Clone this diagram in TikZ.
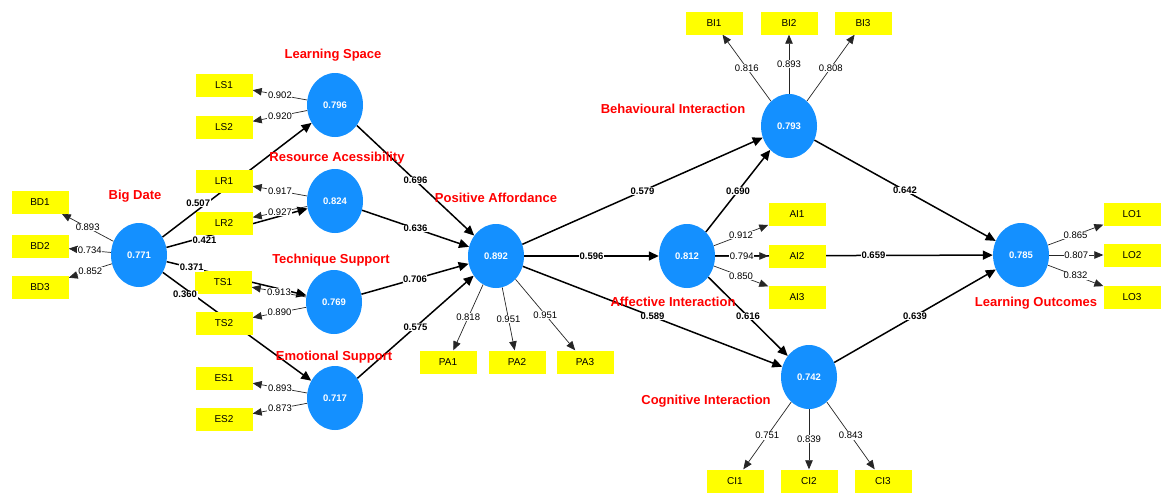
\documentclass[tikz,border=0pt]{standalone}
\usepackage{fontspec}
\setmainfont{Liberation Sans}
\usetikzlibrary{shapes.geometric,arrows.meta}
\pgfdeclarelayer{bg}
\pgfdeclarelayer{canvas}
\pgfsetlayers{canvas,bg,main}
\definecolor{lvblue}{RGB}{20,144,255}
\definecolor{mvyellow}{RGB}{255,255,0}
\definecolor{lblred}{RGB}{255,0,0}
\tikzset{
 latent/.style={ellipse, fill=lvblue, minimum width=56pt, minimum height=64pt, inner sep=0pt, text=white, font=\fontsize{9.5}{10}\selectfont\bfseries},
 ind/.style={rectangle, fill=mvyellow, minimum width=57pt, minimum height=23pt, inner sep=0pt, font=\fontsize{10}{11}\selectfont},
 cname/.style={text=lblred, font=\fontsize{13}{15}\selectfont\bfseries},
 struct/.style={line width=1.5pt, -{Triangle[length=10pt,width=9pt]}},
 meas/.style={line width=0.7pt, black!85, -{Triangle[length=9pt,width=7.5pt]}},
 slab/.style={fill=white, text=black, inner sep=0.6pt, font=\fontsize{9.5}{10}\selectfont\bfseries},
 mlab/.style={fill=white, text=black, inner sep=0.6pt, font=\fontsize{9.5}{10}\selectfont},
}
\begin{document}
\begin{tikzpicture}[x=1pt,y=-1pt]
\begin{pgfonlayer}{canvas}
\useasboundingbox[fill=white] (0,0) rectangle (1161,496);
\end{pgfonlayer}
% latent variables
\node[latent] (BD) at (139,255) {0.771};
\node[latent] (LS) at (335,105) {0.796};
\node[latent] (RA) at (335,201) {0.824};
\node[latent] (TS) at (334,302) {0.769};
\node[latent] (ES) at (335,398) {0.717};
\node[latent] (PA) at (496,256) {0.892};
\node[latent] (AI) at (687,256) {0.812};
\node[latent] (BI) at (789,126) {0.793};
\node[latent] (CI) at (809,377) {0.742};
\node[latent] (LO) at (1021,255) {0.785};
% indicators
\node[ind] (BD1) at (40,202) {BD1};
\node[ind] (BD2) at (40,246) {BD2};
\node[ind] (BD3) at (40,287) {BD3};
\node[ind] (LS1) at (224,85) {LS1};
\node[ind] (LS2) at (224,127) {LS2};
\node[ind] (LR1) at (224,181) {LR1};
\node[ind] (LR2) at (224,223) {LR2};
\node[ind] (TS1) at (223,282) {TS1};
\node[ind] (TS2) at (224,323) {TS2};
\node[ind] (ES1) at (224,378) {ES1};
\node[ind] (ES2) at (224,419) {ES2};
\node[ind] (PA1) at (448,362) {PA1};
\node[ind] (PA2) at (517,362) {PA2};
\node[ind] (PA3) at (585,362) {PA3};
\node[ind] (BI1) at (714,23) {BI1};
\node[ind] (BI2) at (789,23) {BI2};
\node[ind] (BI3) at (863,23) {BI3};
\node[ind] (AI1) at (797,214) {AI1};
\node[ind] (AI2) at (797,256) {AI2};
\node[ind] (AI3) at (797,297) {AI3};
\node[ind] (CI1) at (735,481) {CI1};
\node[ind] (CI2) at (809,481) {CI2};
\node[ind] (CI3) at (883,481) {CI3};
\node[ind] (LO1) at (1132,214) {LO1};
\node[ind] (LO2) at (1132,255) {LO2};
\node[ind] (LO3) at (1132,297) {LO3};
% construct names
\node[cname] (nBD) at (135,196) {Big Date};
\node[cname] (nLS) at (333,55) {Learning Space};
\node[cname] (nRA) at (337,158) {Resource Acessibility};
\node[cname] (nTS) at (331,260) {Technique Support};
\node[cname] (nES) at (334,357) {Emotional Support};
\node[cname] (nPA) at (496,198) {Positive Affordance};
\node[cname] (nBI) at (673,109) {Behavioural Interaction};
\node[cname] (nAI) at (673,302) {Affective Interaction};
\node[cname] (nCI) at (706,401) {Cognitive Interaction};
\node[cname] (nLO) at (1036,303) {Learning Outcomes};
% labels of the Big Date paths, above the boxes
\path (BD) -- node[slab,pos=0.30,xshift=-9pt]{0.507} (LS);
\path (BD) -- node[slab,pos=0.27,yshift=-3pt]{0.421} (RA);
\path (BD) -- node[slab,pos=0.18]{0.371} (TS);
\path (BD) -- node[slab,pos=0.15,yshift=-6pt]{0.360} (ES);
\begin{pgfonlayer}{bg}
% structural paths
\draw[struct] (BD) -- (LS);
\draw[struct] (BD) -- (RA);
\draw[struct] (BD) -- (TS);
\draw[struct] (BD) -- (ES);
\draw[struct] (LS) -- node[slab]{0.696} (PA);
\draw[struct] (RA) -- node[slab]{0.636} (PA);
\draw[struct] (TS) -- node[slab]{0.706} (PA);
\draw[struct] (ES) -- node[slab]{0.575} (PA);
\draw[struct] (PA) -- node[slab]{0.579} (BI);
\draw[struct] (PA) -- node[slab]{0.596} (AI);
\draw[struct] (PA) -- node[slab]{0.589} (CI);
\draw[struct] (AI) -- node[slab]{0.690} (BI);
\draw[struct] (AI) -- node[slab]{0.616} (CI);
\draw[struct] (BI) -- node[slab]{0.642} (LO);
\draw[struct] (AI) -- node[slab,pos=0.57]{0.659} (LO);
\draw[struct] (CI) -- node[slab]{0.639} (LO);
% measurement paths
\draw[meas] (BD) -- node[mlab]{0.893} (BD1);
\draw[meas] (BD) -- node[mlab]{0.734} (BD2);
\draw[meas] (BD) -- node[mlab]{0.852} (BD3);
\draw[meas] (LS) -- node[mlab]{0.902} (LS1);
\draw[meas] (LS) -- node[mlab]{0.920} (LS2);
\draw[meas] (RA) -- node[mlab]{0.917} (LR1);
\draw[meas] (RA) -- node[mlab]{0.927} (LR2);
\draw[meas] (TS) -- node[mlab]{0.913} (TS1);
\draw[meas] (TS) -- node[mlab]{0.890} (TS2);
\draw[meas] (ES) -- node[mlab]{0.893} (ES1);
\draw[meas] (ES) -- node[mlab]{0.873} (ES2);
\draw[meas] (PA) -- node[mlab]{0.818} (PA1);
\draw[meas] (PA) -- node[mlab]{0.951} (PA2);
\draw[meas] (PA) -- node[mlab]{0.951} (PA3);
\draw[meas] (BI) -- node[mlab]{0.816} (BI1);
\draw[meas] (BI) -- node[mlab]{0.893} (BI2);
\draw[meas] (BI) -- node[mlab]{0.808} (BI3);
\draw[meas] (AI) -- node[mlab]{0.912} (AI1);
\draw[meas] (AI) -- node[mlab]{0.794} (AI2);
\draw[meas] (AI) -- node[mlab]{0.850} (AI3);
\draw[meas] (CI) -- node[mlab]{0.751} (CI1);
\draw[meas] (CI) -- node[mlab]{0.839} (CI2);
\draw[meas] (CI) -- node[mlab]{0.843} (CI3);
\draw[meas] (LO) -- node[mlab]{0.865} (LO1);
\draw[meas] (LO) -- node[mlab]{0.807} (LO2);
\draw[meas] (LO) -- node[mlab]{0.832} (LO3);
\end{pgfonlayer}
\end{tikzpicture}
\end{document}
